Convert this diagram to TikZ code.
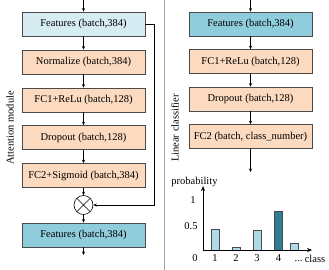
\documentclass[tikz,border=0pt]{standalone}
\usepackage{fontspec}
\setmainfont{Liberation Serif}
\usetikzlibrary{arrows.meta,positioning}
\definecolor{featlight}{RGB}{214,236,243}
\definecolor{featdark}{RGB}{144,205,220}
\definecolor{boxfill}{RGB}{251,218,191}
\definecolor{barlight}{RGB}{173,218,230}
\definecolor{bardark}{RGB}{46,125,146}
\definecolor{edge}{RGB}{75,75,75}

\begin{document}
\begin{tikzpicture}[x=1pt,y=-1pt,
    every node/.style={font=\fontsize{10.5}{12}\selectfont},
    box/.style={draw=edge, line width=0.7pt, fill=boxfill, minimum width=123pt, minimum height=24pt, inner sep=0pt},
    arr/.style={-{Stealth[length=3.5pt,width=3pt]}, line width=0.5pt},
    axis/.style={-{Stealth[length=5pt,width=4pt]}, line width=0.6pt},
    mul/.style={circle, draw, line width=0.6pt, minimum size=19pt, inner sep=0pt,
      path picture={\draw (path picture bounding box.north west) -- (path picture bounding box.south east)
        (path picture bounding box.north east) -- (path picture bounding box.south west);}}]
  \useasboundingbox (0,0) rectangle (329,270);
  % Divider
  \draw[black!35, line width=0.6pt] (164,0) -- (164,270);
  % Attention module
  \node[box, fill=featlight] (f1) at (83.5,24) {Features (batch,384)};
  \node[box] (n1) at (83.5,62) {Normalize (batch,384)};
  \node[box] (fc1) at (83.5,100) {FC1+ReLu (batch,128)};
  \node[box] (d1) at (83.5,137.5) {Dropout (batch,128)};
  \node[box] (fc2) at (83.5,175.5) {FC2+Sigmoid (batch,384)};
  \node[mul] (m1) at (83.5,205) {};
  \node[box, fill=featdark] (f2) at (83.5,235) {Features (batch,384)};
  \coordinate (in1) at (83.5,0);
  \coordinate (out1) at (83.5,255);
  \node[rotate=90] (lab1) at (10,128) {Attention module};
  % Connections
  \draw[arr] (in1) -- (f1);
  \draw[arr] (f1) -- (n1);
  \draw[arr] (n1) -- (fc1);
  \draw[arr] (fc1) -- (d1);
  \draw[arr] (d1) -- (fc2);
  \draw[arr] (fc2) -- (m1);
  \draw[arr] (m1) -- (f2);
  \draw[arr] (f2) -- (out1);
  \draw[arr] (f1.east) -- ++(8.5,0) |- (m1.east);
  % Linear classifier
  \node[box, fill=featdark] (rf) at (250.5,24) {Features (batch,384)};
  \node[box] (rfc1) at (250.5,61.5) {FC1+ReLu (batch,128)};
  \node[box] (rd) at (250.5,99) {Dropout (batch,128)};
  \node[box] (rfc2) at (250.5,136.5) {FC2 (batch, class\_number)};
  \coordinate (in2) at (250.5,0);
  \coordinate (pr) at (250.5,172);
  \node[rotate=90] (lab2) at (175,128) {Linear classifier};
  \draw[arr] (in2) -- (rf);
  \draw[arr] (rf) -- (rfc1);
  \draw[arr] (rfc1) -- (rd);
  \draw[arr] (rd) -- (rfc2);
  \draw[arr] (rfc2) -- (pr);
  % Probability chart
  \coordinate (o) at (203,250);
  \foreach \x/\h/\c in {215/0.42/barlight, 236/0.06/barlight, 257/0.40/barlight, 278.5/0.78/bardark, 294.5/0.14/barlight}
    \draw[draw=edge, line width=0.7pt, fill=\c] (\x-4,250) rectangle (\x+4,250-50*\h);
  \draw[axis] (o) -- (203,186);
  \draw[axis] (o) -- (312,250);
  \node (ylab) at (194.5,182) {probability};
  \node (xlab) at (315,258.5) {class};
  \node (t0) at (195,258.5) {0};
  \node (t1) at (193,200) {1};
  \node (t05) at (191,226) {0.5};
  \foreach \x/\t in {215/1, 236/2, 257/3, 278.5/4}
    \node at (\x,258.5) {\t};
  \node[inner sep=0pt, anchor=base] (tdots) at (298.5,261.5) {...};
\end{tikzpicture}
\end{document}
